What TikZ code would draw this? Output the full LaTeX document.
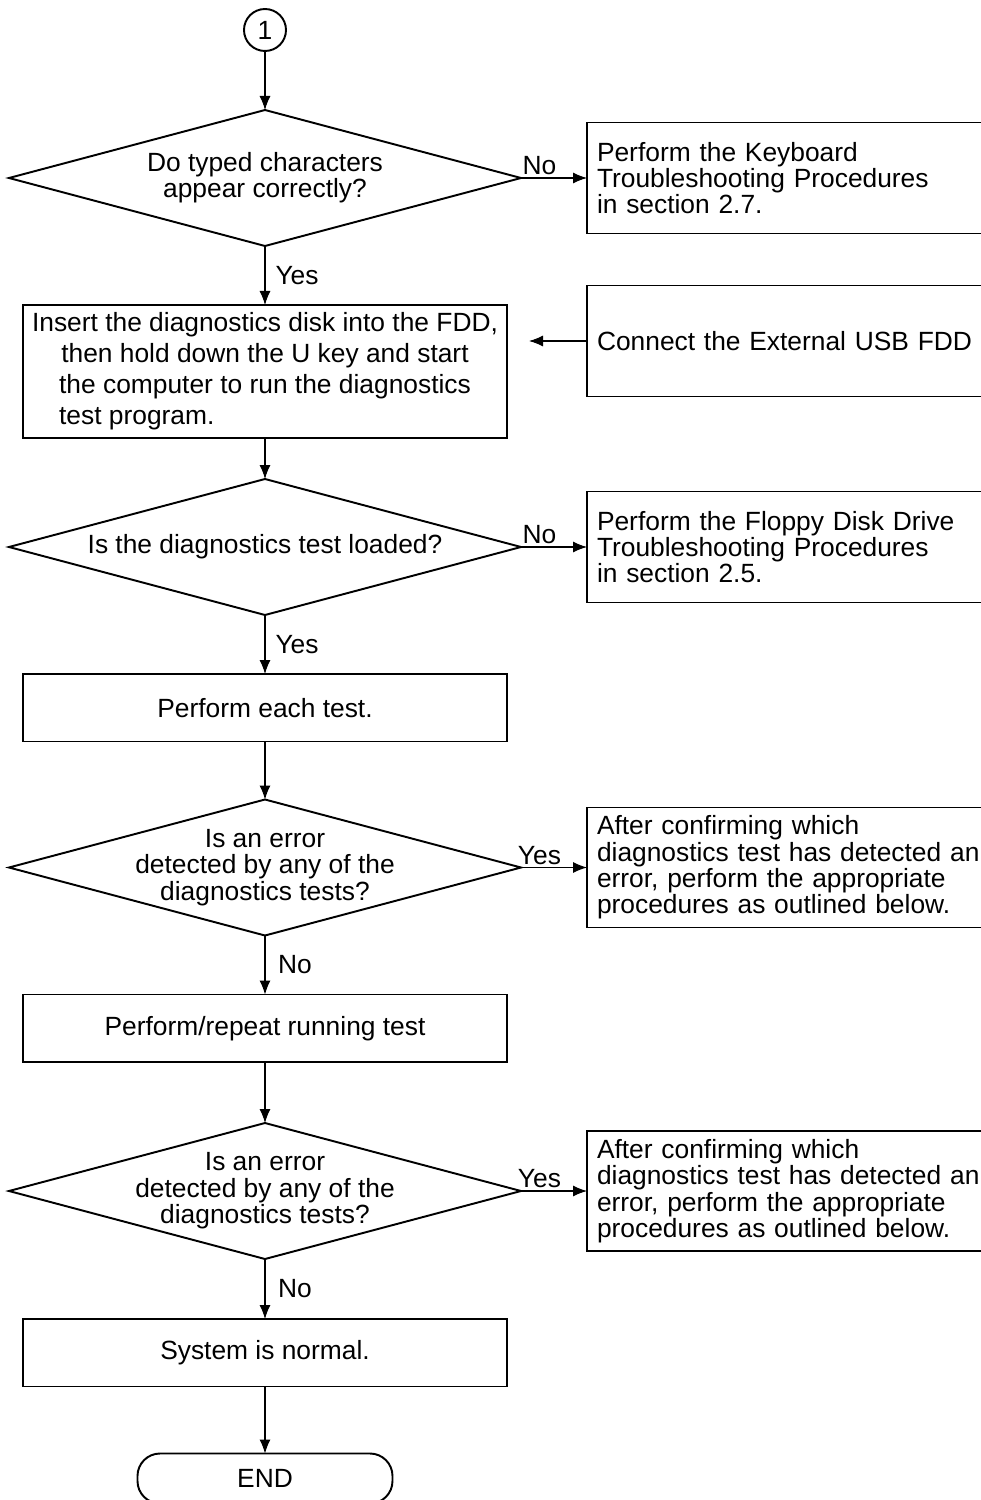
\documentclass[tikz,border=0pt]{standalone}
\usepackage{fontspec}
\setmainfont{Liberation Sans}
\usetikzlibrary{positioning,shapes,arrows.meta}

\begin{document}
\begin{tikzpicture}[
    node distance=1.2cm,
    font=\fontsize{15}{15}\selectfont,
    decision/.style={
        diamond,
        draw=black,
        line width=1.1pt,
        outer sep=0pt,
        aspect=3.76,
        minimum width=10.24cm,
        minimum height=2.72cm,
        inner xsep=-0.3cm,
        inner ysep=-0.2cm,
        align=center
    },
    process/.style={
        rectangle,
        draw=black,
        line width=1.1pt,
        outer sep=0pt,
        minimum width=9.68cm,
        minimum height=1.35cm,
        align=center
    },
    note/.style={
        rectangle,
        draw=black,
        line width=1.1pt,
        outer sep=0pt,
        minimum width=8.5cm,
        minimum height=2.22cm,
        text width=8.1cm,
        inner xsep=0.2cm,
        align=left
    },
    term/.style={
        rectangle,
        draw=black,
        line width=1.1pt,
        outer sep=0pt,
        rounded corners=0.45cm,
        minimum width=5.1cm,
        minimum height=1cm
    },
    ans/.style={inner sep=1.5pt},
    arrow/.style={-{Latex[length=0.28cm,width=0.22cm]}, line width=0.6pt}
]
    \useasboundingbox (-5.3,0.6) rectangle (14.3,-29.4);

    % Main column
    \node[circle, draw=black, line width=1.1pt, outer sep=0pt, minimum size=0.84cm, inner sep=0pt] (start) {1};
    \node[decision, below=1.18cm of start] (typed) {Do typed characters\\appear correctly?};
    \node[process, below=1.18cm of typed, minimum height=2.66cm, font=\fontsize{15}{17.6}\selectfont] (insert)
        {Insert the diagnostics disk into the FDD,\\
         then hold down the U key and start\\
         the computer to run the diagnostics\\
         \rlap{test program.}\phantom{the computer to run the diagnostics}};
    \node[decision, below=0.82cm of insert] (loaded) {Is the diagnostics test loaded?};
    \node[process, below=1.18cm of loaded] (each) {Perform each test.};
    \node[decision, below=1.16cm of each] (err1) {Is an error\\detected by any of the\\diagnostics tests?};
    \node[process, below=1.18cm of err1] (rerun) {Perform/repeat running test};
    \node[decision, below=1.22cm of rerun] (err2) {Is an error\\detected by any of the\\diagnostics tests?};
    \node[process, below=1.2cm of err2] (normal) {System is normal.};
    \node[term, below=1.34cm of normal] (finish) {END};

    % Right column
    \node[note, right=1.32cm of typed] (kbd)
        {Perform the Keyboard\\Troubleshooting Procedures\\in section 2.7.};
    \node[note, below=1.04cm of kbd] (usb) {Connect the External USB FDD};
    \coordinate[left=1.16cm of usb] (usbend);
    \node[note, right=1.32cm of loaded] (floppy)
        {Perform the Floppy Disk Drive\\Troubleshooting Procedures\\in section 2.5.};
    \node[note, right=1.32cm of err1, minimum height=2.4cm] (fix1)
        {After confirming which\\diagnostics test has detected an\\error, perform the appropriate\\procedures as outlined below.};
    \node[note, right=1.32cm of err2, minimum height=2.4cm] (fix2)
        {After confirming which\\diagnostics test has detected an\\error, perform the appropriate\\procedures as outlined below.};

    % Connectors
    \draw[arrow] (start) -- (typed);
    \draw[arrow] (typed) -- node[ans, above, pos=0.28] {No} (kbd);
    \draw[arrow] (typed) -- node[ans, right, inner xsep=0.2cm] {Yes} (insert);
    \draw[arrow] (usb) -- (usbend);
    \draw[arrow] (insert) -- (loaded);
    \draw[arrow] (loaded) -- node[ans, above, pos=0.28] {No} (floppy);
    \draw[arrow] (loaded) -- node[ans, right, inner xsep=0.2cm] {Yes} (each);
    \draw[arrow] (each) -- (err1);
    \draw[arrow] (err1) -- node[ans, above, pos=0.28] {Yes} (fix1);
    \draw[arrow] (err1) -- node[ans, right, inner xsep=0.25cm] {No} (rerun);
    \draw[arrow] (rerun) -- (err2);
    \draw[arrow] (err2) -- node[ans, above, pos=0.28] {Yes} (fix2);
    \draw[arrow] (err2) -- node[ans, right, inner xsep=0.25cm] {No} (normal);
    \draw[arrow] (normal) -- (finish);
\end{tikzpicture}
\end{document}
